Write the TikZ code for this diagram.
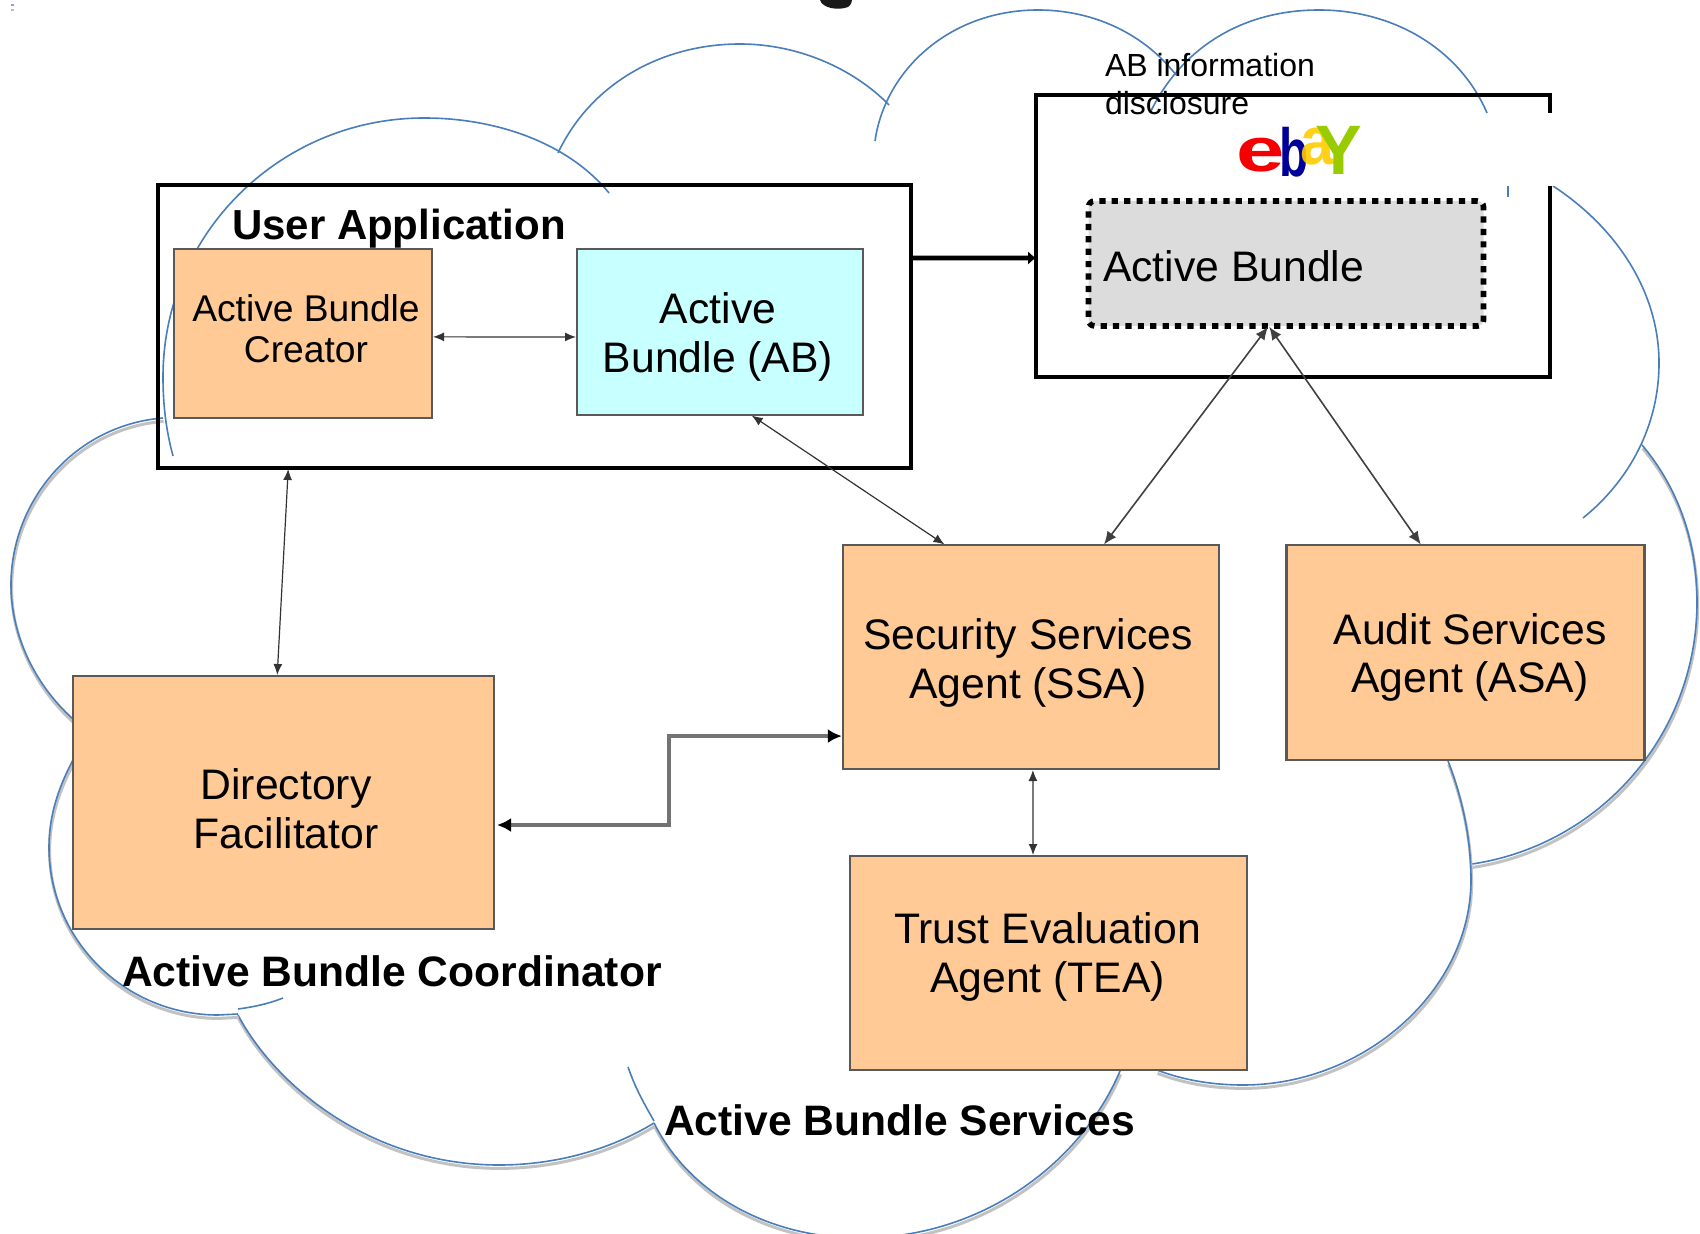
\documentclass[tikz,border=0pt]{standalone}
\usepackage{fontspec}
\setmainfont{Liberation Sans}
\usetikzlibrary{arrows.meta,calc}
\definecolor{cloudblue}{HTML}{4A7EBB}
\definecolor{boxorange}{HTML}{FFCA96}
\definecolor{boxcyan}{HTML}{C8FFFF}
\definecolor{bundlegray}{HTML}{DCDCDC}
\definecolor{logored}{HTML}{F40000}
\definecolor{logoblue}{HTML}{000099}
\definecolor{logoyellow}{HTML}{FFCC00}
\definecolor{logogreen}{HTML}{99CC00}
\tikzset{
 frame/.style={draw=black,line width=2pt,fill=none,inner sep=0,outer sep=0},
 agent/.style={draw=black!65,line width=1.3pt,fill=boxorange,inner sep=0,outer sep=0},
 abbox/.style={agent,fill=boxcyan},
 dotbox/.style={draw=black,line width=2.8pt,fill=bundlegray,dash pattern=on 3.1pt off 3.1pt,rounded corners=3pt,inner sep=0,outer sep=0},
 cloudline/.style={draw=cloudblue,line width=.8pt},
 cloudshadow/.style={draw=black!24,line width=1.5pt},
 thinlink/.style={draw=black!80,line width=.6pt,{Latex[length=5.5pt,width=4.5pt]}-{Latex[length=5.5pt,width=4.5pt]},shorten <=.5pt,shorten >=.5pt},
 midlink/.style={draw=black!75,line width=.8pt,{Latex[length=6.5pt,width=5.5pt]}-{Latex[length=6.5pt,width=5.5pt]},shorten <=.5pt,shorten >=.3pt},
 greylink/.style={draw=black!55,line width=1.6pt,{Latex[length=7pt,width=7pt,black]}-{Latex[length=7pt,width=7pt,black]},shorten <=1.5pt,shorten >=.6pt},
 heavylink/.style={draw=black,line width=2.4pt,-{Latex[length=4pt,width=7pt]}},
 txt/.style={inner sep=0,outer sep=0,align=center,text=black},
 big/.style={txt,font=\fontsize{21.35}{24.4}\selectfont},
 bold/.style={txt,font=\fontsize{21.3}{24}\selectfont\bfseries},
 logo/.style={inner sep=0,outer sep=0,anchor=base,font=\bfseries},
}
\newcommand{\shadedarc}[1]{%
 \draw[cloudshadow,yshift=-1.7pt,xshift=.3pt] #1;
 \draw[cloudline] #1;}
\newcommand{\plainarc}[1]{\draw[cloudline] #1;}
\begin{document}
\begin{tikzpicture}[x=.5pt,y=-.5pt]
\useasboundingbox (0,0) rectangle (1700,1234);
\clip (0,0) rectangle (1700,1234);
% cut-off title remnant and specks
\fill[black!90] (820,0) .. controls (822,8) and (838,11) .. (848,7) .. controls (851,5) and (852,2) .. (852,0) -- cycle;
\fill[cloudblue!70] (11,4) rectangle (14,6);
\fill[black!25] (11,9) rectangle (14,11);
% cloud outline
\plainarc{(173,456) .. controls (166,430) and (163,405) .. (163,377) .. controls (163,234) and (280,118) .. (424,118) .. controls (500,118) and (570,145) .. (609,193)}
\plainarc{(558,153) .. controls (590,85) and (660,44) .. (740,44) .. controls (800,44) and (855,70) .. (889,105)}
\plainarc{(875,141) .. controls (885,70) and (950,10) .. (1038,10) .. controls (1095,10) and (1145,35) .. (1176,75)}
\plainarc{(1150,113) .. controls (1180,50) and (1240,10) .. (1319,10) .. controls (1395,10) and (1460,50) .. (1487,113)}
\plainarc{(1553,186) .. controls (1620,230) and (1659,295) .. (1659,363) .. controls (1659,425) and (1630,480) .. (1583,518)}
\shadedarc{(1642,445) .. controls (1680,490) and (1697,545) .. (1697,602) .. controls (1697,735) and (1600,845) .. (1472,864)}
\shadedarc{(1448,761) .. controls (1463,800) and (1471,840) .. (1471,880) .. controls (1471,990) and (1365,1085) .. (1243,1085) .. controls (1212,1085) and (1183,1080) .. (1157,1070)}
\shadedarc{(654,1123) .. controls (690,1195) and (770,1238) .. (860,1238) .. controls (980,1238) and (1080,1165) .. (1120,1071)}
\plainarc{(628,1067) .. controls (636,1090) and (645,1105) .. (654,1121)}
\shadedarc{(238,1015) .. controls (275,1085) and (370,1165) .. (499,1165) .. controls (555,1165) and (610,1150) .. (654,1123)}
\plainarc{(238,1009) .. controls (253,1007) and (268,1004) .. (283,998)}
\shadedarc{(73,760) .. controls (57,790) and (49,818) .. (49,847) .. controls (49,940) and (125,1015) .. (218,1015) -- (238,1014)}
\shadedarc{(163,418) .. controls (75,425) and (11,500) .. (11,585) .. controls (11,635) and (35,685) .. (73,719)}
% frames
\node[frame,minimum width=376.5pt,minimum height=141.5pt] (ua) at (534.5,326.5) {};
\node[frame,minimum width=257pt,minimum height=141pt] (shop) at (1293,236) {};
\fill[white] (1487,113) rectangle (1600,186);
\draw[cloudline] (1508,186) -- (1508,197);
% boxes
\node[agent,minimum width=129pt,minimum height=84.5pt] (creator) at (303,333.5) {};
\node[abbox,minimum width=143pt,minimum height=83pt] (ab) at (720,332) {};
\node[dotbox,minimum width=197.5pt,minimum height=62.5pt] (bundle) at (1286,263.5) {};
\node[agent,minimum width=210.5pt,minimum height=126.5pt] (df) at (283.5,802.5) {};
\node[agent,minimum width=188pt,minimum height=112pt] (ssa) at (1031,657) {};
\node[agent,minimum width=179pt,minimum height=107.5pt] (asa) at (1465.5,652.5) {};
\node[agent,minimum width=198.5pt,minimum height=107pt] (tea) at (1048.5,963) {};
% texts
\node[txt,anchor=west,font=\fontsize{21}{24}\selectfont\bfseries] (tua) at (232,229) {User Application};
\node[txt,font=\fontsize{18.6}{20.5}\selectfont] (tcr) at (306,329) {Active Bundle\\Creator};
\node[big] (tab) at (718,337) {Active\\Bundle (AB)};
\node[big,anchor=west] (tbu) at (1103,266) {Active Bundle};
\node[txt,anchor=west,align=left,font=\fontsize{16}{19}\selectfont] (tdis) at (1105,84) {AB information\\disclosure};
\node[big] (tdf) at (286,808.5) {Directory\\Facilitator};
\node[big] (tssa) at (1028,663) {Security Services\\Agent (SSA)};
\node[big] (tasa) at (1470,657.5) {Audit Services\\Agent (ASA)};
\node[big] (ttea) at (1047.5,957) {Trust Evaluation\\Agent (TEA)};
\node[bold,anchor=west] (tcoo) at (122,971) {Active Bundle Coordinator};
\node[bold,anchor=west] (tsvc) at (664,1120) {Active Bundle Services};
% logo
\node[logo,text=logored] (le) at (1261,172) {\fontsize{31}{31}\selectfont\scalebox{1.4}[1]{e}};
\node[logo,text=logoblue] (lb) at (1294,177) {\fontsize{34}{34}\selectfont\scalebox{.7}[1]{b}};
\node[logo,text=logoyellow,opacity=.9] (la) at (1317,165) {\fontsize{34}{34}\selectfont\scalebox{.9}[1]{a}};
\node[logo,text=logogreen] (ly) at (1339,175) {\fontsize{35}{35}\selectfont Y};
% connectors
\draw[heavylink] ($(ua.north east)!.258!(ua.south east)$) -- ($(shop.north west)!.578!(shop.south west)$);
\draw[thinlink] ($(creator.north east)!.52!(creator.south east)$) -- ($(ab.north west)!.53!(ab.south west)$);
\draw[thinlink] ($(ab.south west)!.608!(ab.south east)$) -- ($(ssa.north west)!.272!(ssa.north east)$);
\draw[thinlink] ($(ua.south west)!.173!(ua.south east)$) -- ($(df.north west)!.485!(df.north east)$);
\draw[greylink] ($(df.north east)!.589!(df.south east)$) -| (669,780) |- ($(ssa.north west)!.853!(ssa.south west)$);
\draw[thinlink] ($(ssa.south west)!.505!(ssa.south east)$) -- ($(tea.north west)!.461!(tea.north east)$);
\draw[midlink] ($(bundle.south west)!.456!(bundle.south east)$) -- ($(ssa.north west)!.693!(ssa.north east)$);
\draw[midlink] ($(bundle.south west)!.456!(bundle.south east)$) -- ($(asa.north west)!.376!(asa.north east)$);
\end{tikzpicture}
\end{document}
